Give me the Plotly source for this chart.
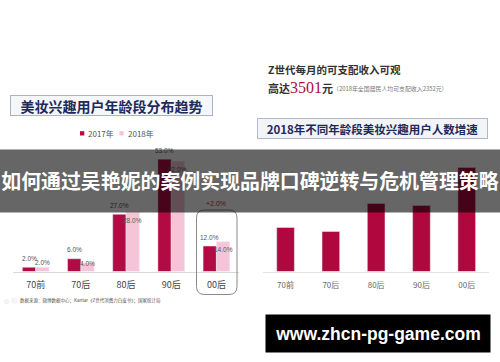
import plotly.graph_objects as go

# ---------------- data ----------------
categories = ["70前", "70后", "80后", "90后", "00后"]
share_2017 = [2.0, 6.0, 27.0, 53.0, 12.0]
share_2018 = [2.0, 4.0, 28.0, 52.0, 14.0]
growth_index_2018 = [44, 40, 68, 66, 104]
change_00 = "+2.0%"
series_names = ["2017年", "2018年"]

title_left = "美妆兴趣用户年龄段分布趋势"
title_right = "2018年不同年龄段美妆兴趣用户人数增速"
income_line1 = "Z世代每月的可支配收入可观"
income_value = "3501"
income_note = "（2018年全国居民人均可支配收入2352元）"
source_text = "数据来源：微博数据中心；Kantar《Z世代消费力白皮书》；国家统计局"
banner_text = "如何通过吴艳妮的案例实现品牌口碑逆转与危机管理策略"
watermark = "www.zhcn-pg-game.com"

W, H = 500, 362
CRIMSON = "#b20a42"
PINK = "#f7c4d7"
NAVY = "#1e2a5a"
CJK = "Noto Sans CJK SC"


def px(x):
    return x / W


def py(y):
    return 1 - y / H


BW = 0.295  # bar width (category units) for the grouped chart

fig = go.Figure()
fig.add_trace(go.Bar(x=categories, y=share_2017, name=series_names[0],
                     marker_color=CRIMSON, width=BW, offset=-BW,
                     xaxis="x", yaxis="y", showlegend=False))
fig.add_trace(go.Bar(x=categories, y=share_2018, name=series_names[1],
                     marker_color=PINK, width=BW, offset=0,
                     xaxis="x", yaxis="y", showlegend=False))
fig.add_trace(go.Bar(x=categories, y=growth_index_2018, name="增速",
                     marker_color="#b0073f", width=0.39,
                     xaxis="x2", yaxis="y2", showlegend=False))

annotations = []


def note(**kw):
    kw.setdefault("showarrow", False)
    kw.setdefault("xanchor", "center")
    kw.setdefault("yanchor", "middle")
    kw.setdefault("xref", "paper")
    kw.setdefault("yref", "paper")
    annotations.append(kw)


# data labels
for i, v in enumerate(share_2017):
    note(x=i - BW / 2, y=v, xref="x", yref="y", text=f"{v:.1f}%", yshift=9,
         font=dict(size=6.5, color="#555555", family="Liberation Sans"))
for i, v in enumerate(share_2018):
    shift = 5 if v <= 2 else (0 if v <= 4 else -8)
    note(x=i + BW / 2, y=v, xref="x", yref="y", text=f"{v:.1f}%", yshift=shift,
         font=dict(size=6.5, color="#555555", family="Liberation Sans"))

note(x=px(216), y=py(203.5), text=change_00,
     font=dict(size=7, color="#d0303a", family="Liberation Sans"))

# titles
note(x=px(111.3), y=py(105.3), text=f"<b>{title_left}</b>",
     width=201, height=19, bgcolor="#f6f7fa", bordercolor="#a9b2c9", borderwidth=1, borderpad=0,
     font=dict(size=14, color=NAVY, family=CJK))
note(x=px(372.8), y=py(128.3), text=f"<b>{title_right}</b>",
     width=229, height=19, bgcolor="#f2f4f8", bordercolor="#b0b8cc", borderwidth=1, borderpad=0,
     font=dict(size=11.5, color=NAVY, family=CJK))

# legend (manual)
note(x=px(86), y=py(133.3), text=series_names[0], xanchor="left",
     font=dict(size=8, color="#555555", family=CJK))
note(x=px(125.5), y=py(133.3), text=series_names[1], xanchor="left",
     font=dict(size=8, color="#555555", family=CJK))

# income text
note(x=px(266), y=py(69), text=f"<b>{income_line1}</b>", xanchor="left",
     font=dict(size=10.5, color="#333333", family=CJK))
note(x=px(266), y=py(87.5), xanchor="left",
     text=f"<b>高达</b><span style='font-family:Liberation Serif;font-size:16px;color:{CRIMSON}'>{income_value}</span><b>元</b>",
     font=dict(size=11, color="#333333", family=CJK))
note(x=px(331), y=py(88.5), text=income_note, xanchor="left",
     font=dict(size=5.9, color="#777777", family=CJK))

# source
note(x=px(2), y=py(300), text="◎ ⓒ", xanchor="left",
     font=dict(size=6, color="#d6d6d6", family="DejaVu Sans"))
note(x=px(18), y=py(300), text=source_text, xanchor="left",
     font=dict(size=4.5, color="#555555", family=CJK))

# watermark
note(x=px(378.3), y=py(333.9), text=f"<b>{watermark}</b>",
     width=224, height=37, bgcolor="#000000", borderpad=0,
     font=dict(size=17.5, color="#ffffff", family="Liberation Sans"))

# overlay banner (last, so it sits on top)
note(x=0.5, y=py(180.85), text=f"<b>{banner_text}</b>",
     width=W, height=61.7, bgcolor="rgba(0,0,0,0.6)", borderpad=0,
     font=dict(size=19.9, color="#ffffff", family=CJK))

# rounded box around 00后
L, R, T, B, r = 196.5, 237, 210, 294.5, 8
path = (f"M {px(L + r)} {py(T)} L {px(R - r)} {py(T)} Q {px(R)} {py(T)} {px(R)} {py(T + r)} "
        f"L {px(R)} {py(B - r)} Q {px(R)} {py(B)} {px(R - r)} {py(B)} "
        f"L {px(L + r)} {py(B)} Q {px(L)} {py(B)} {px(L)} {py(B - r)} "
        f"L {px(L)} {py(T + r)} Q {px(L)} {py(T)} {px(L + r)} {py(T)} Z")
shapes = [
    dict(type="path", path=path, xref="paper", yref="paper", line=dict(color="#8a8a8a", width=1)),
    dict(type="rect", xref="paper", yref="paper", x0=px(80), x1=px(84.3), y0=py(135.5), y1=py(131.2),
         fillcolor=CRIMSON, line=dict(width=0)),
    dict(type="rect", xref="paper", yref="paper", x0=px(119.3), x1=px(123.6), y0=py(135.5), y1=py(131.2),
         fillcolor=PINK, line=dict(width=0)),
]

y_bottom = py(271.5)
y_top = py(150)
fig.update_layout(
    width=W, height=H, margin=dict(l=0, r=0, t=0, b=0),
    paper_bgcolor="white", plot_bgcolor="white",
    font=dict(family=CJK),
    xaxis=dict(domain=[px(13.1), px(239)], showline=True, linecolor="#d8d8d8", linewidth=1,
               ticks="", showgrid=False, tickfont=dict(size=9, color="#444444"), ticklabelstandoff=5),
    yaxis=dict(domain=[y_bottom, y_top], range=[0, 121.5 / 2.12], visible=False, showgrid=False),
    xaxis2=dict(domain=[px(262.9), px(489.4)], anchor="y2", showline=True, linecolor="#e3e3e3",
                linewidth=1, ticks="", showgrid=False, tickfont=dict(size=8, color="#666666"),
                ticklabelstandoff=6),
    yaxis2=dict(domain=[y_bottom, y_top], range=[0, 121.5], visible=False, showgrid=False, anchor="x2"),
    annotations=annotations,
    shapes=shapes,
)

fig.write_html("out.html", config={"displayModeBar": False},
               post_script="document.body.style.margin='0';")
